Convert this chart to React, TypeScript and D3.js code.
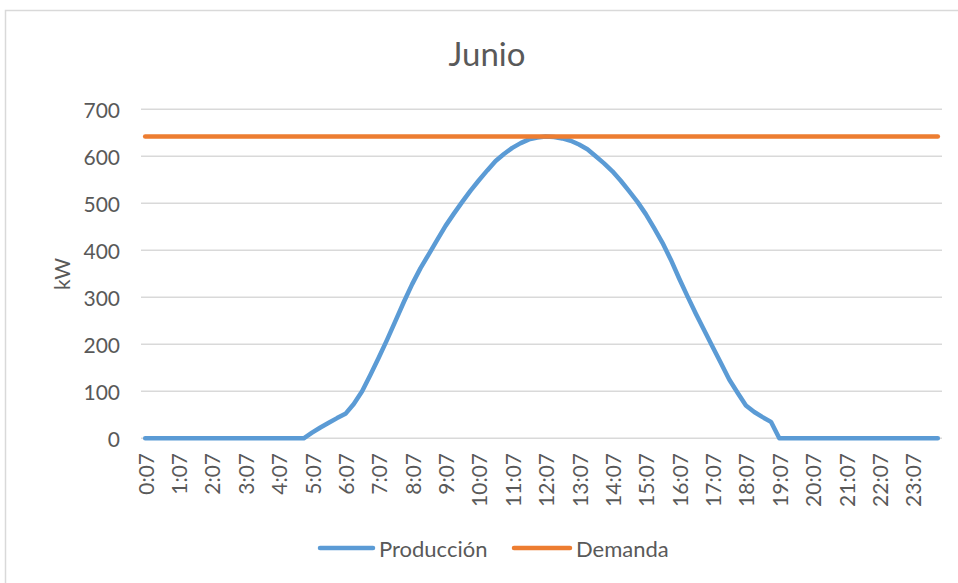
import React from "react";
import * as d3 from "d3";

const TITLE = "Junio";
const Y_TITLE = "kW";
const Y_TICKS = [0, 100, 200, 300, 400, 500, 600, 700];
const SERIES_NAMES = ["Producción", "Demanda"];

// 15-minute categories starting at 0:07
const CATEGORIES: string[] = d3.range(96).map((i) => {
  const m = 7 + i * 15;
  const h = Math.floor(m / 60);
  const mm = m % 60;
  return `${h}:${String(mm).padStart(2, "0")}`;
});

const PRODUCTION = [
  0, 0, 0, 0, 0, 0, 0, 0, 0, 0, 0, 0, 0, 0, 0, 0,
  0, 0, 0, 0, 12, 23, 33, 43, 52, 73, 100, 135, 172, 210, 250, 290,
  328, 362, 392, 422, 452, 478, 503, 527, 549, 570, 590, 605, 618, 628, 636, 640,
  642, 641, 638, 633, 625, 615, 600, 585, 568, 548, 526, 503, 477, 447, 416, 380,
  340, 302, 265, 230, 195, 160, 125, 97, 70, 56, 45, 35, 0, 0, 0, 0,
  0, 0, 0, 0, 0, 0, 0, 0, 0, 0, 0, 0, 0, 0, 0, 0,
];

const DEMAND = [
  642, 642, 642, 642, 642, 642, 642, 642, 642, 642, 642, 642, 642, 642, 642, 642,
  642, 642, 642, 642, 642, 642, 642, 642, 642, 642, 642, 642, 642, 642, 642, 642,
  642, 642, 642, 642, 642, 642, 642, 642, 642, 642, 642, 642, 642, 642, 642, 642,
  642, 642, 642, 642, 642, 642, 642, 642, 642, 642, 642, 642, 642, 642, 642, 642,
  642, 642, 642, 642, 642, 642, 642, 642, 642, 642, 642, 642, 642, 642, 642, 642,
  642, 642, 642, 642, 642, 642, 642, 642, 642, 642, 642, 642, 642, 642, 642, 642,
];

const COLORS = ["#5B9BD5", "#ED7D31"];
const FONT = "Lato, 'Open Sans', sans-serif";
const TEXT_COLOR = "#595959";

export default function App() {
  const W = 958;
  const H = 583;
  const plot = { left: 141, right: 942, top: 109.3, bottom: 438.3 };

  const x = d3
    .scalePoint<string>()
    .domain(CATEGORIES)
    .range([plot.left, plot.right])
    .padding(0.5);
  const y = d3.scaleLinear().domain([0, 700]).range([plot.bottom, plot.top]);

  const line = d3
    .line<number>()
    .x((_, i) => x(CATEGORIES[i]) as number)
    .y((d) => y(d));

  const series = [PRODUCTION, DEMAND];

  return (
    <svg
      width={W}
      height={H}
      style={{ position: "absolute", left: 0, top: 0, display: "block" }}
      fontFamily={FONT}
    >
      <rect x={0} y={0} width={W} height={H} fill="#ffffff" />
      <rect
        x={5.5}
        y={10.5}
        width={980}
        height={600}
        fill="#ffffff"
        stroke="#d9d9d9"
        strokeWidth={1.5}
      />
      <text
        x={487}
        y={66}
        textAnchor="middle"
        fontSize={33}
        fill={TEXT_COLOR}
      >
        {TITLE}
      </text>

      {Y_TICKS.map((t) => (
        <g key={t}>
          <line
            x1={plot.left}
            x2={plot.right}
            y1={y(t)}
            y2={y(t)}
            stroke="#d9d9d9"
            strokeWidth={1.5}
          />
          <text
            x={120}
            y={y(t)}
            textAnchor="end"
            dominantBaseline="central"
            fontSize={21}
            fill={TEXT_COLOR}
          >
            {t}
          </text>
        </g>
      ))}

      {CATEGORIES.map((c, i) =>
        i % 4 === 0 ? (
          <text
            key={c}
            transform={`translate(${x(c)},453) rotate(-90)`}
            textAnchor="end"
            dominantBaseline="central"
            fontSize={21}
            fill={TEXT_COLOR}
          >
            {c}
          </text>
        ) : null
      )}

      <text
        transform="translate(61,274) rotate(-90)"
        textAnchor="middle"
        dominantBaseline="central"
        fontSize={21}
        fill={TEXT_COLOR}
      >
        {Y_TITLE}
      </text>

      {series.map((s, k) => (
        <path
          key={k}
          d={line(s) as string}
          fill="none"
          stroke={COLORS[k]}
          strokeWidth={4.5}
          strokeLinejoin="round"
          strokeLinecap="round"
        />
      ))}

      <g>
        <line x1={320} x2={373} y1={548} y2={548} stroke={COLORS[0]} strokeWidth={4.5} strokeLinecap="round" />
        <text x={379} y={548} dominantBaseline="central" fontSize={22} fill={TEXT_COLOR}>
          {SERIES_NAMES[0]}
        </text>
        <line x1={514} x2={570} y1={548} y2={548} stroke={COLORS[1]} strokeWidth={4.5} strokeLinecap="round" />
        <text x={576} y={548} dominantBaseline="central" fontSize={22} fill={TEXT_COLOR}>
          {SERIES_NAMES[1]}
        </text>
      </g>
    </svg>
  );
}
